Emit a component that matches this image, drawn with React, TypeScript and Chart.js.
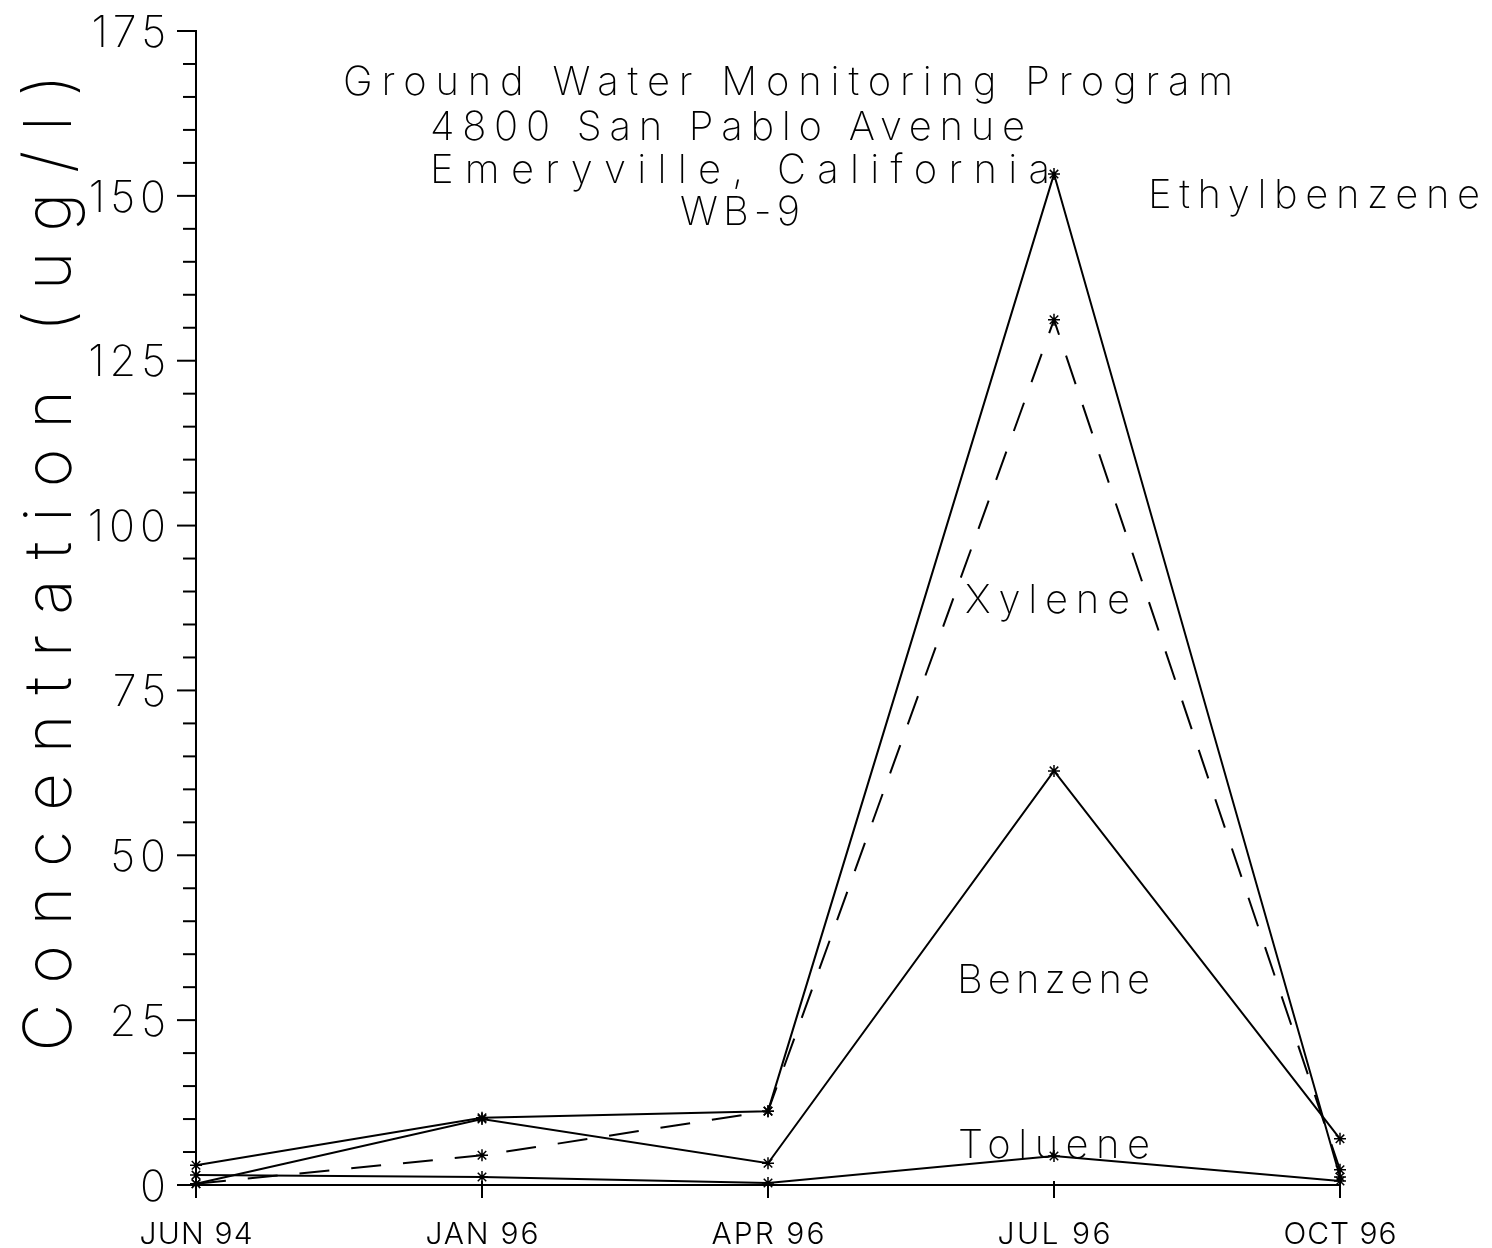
import { useEffect, useRef } from 'react';
import { Chart, registerables } from 'chart.js';

Chart.register(...registerables);

const categories = ['JUN 94', 'JAN 96', 'APR 96', 'JUL 96', 'OCT 96'];
const ethylbenzene = [3.0, 10.2, 11.2, 153.3, 1.2];
const xylene = [0.2, 4.5, 11.2, 131.2, 2.3];
const benzene = [0.2, 10.0, 3.3, 62.8, 7.0];
const toluene = [1.5, 1.2, 0.3, 4.4, 0.6];
const yMajorTicks = [0, 25, 50, 75, 100, 125, 150, 175];
const yMinorStep = 5;
const yMax = 175;
const titleLines = [
  'Ground Water Monitoring Program',
  '4800 San Pablo Avenue',
  'Emeryville, California',
  'WB-9',
];
const yTitle = 'Concentration (ug/l)';

const FONT = "'Inter', 'DejaVu Sans', sans-serif";

function drawFit(
  ctx: CanvasRenderingContext2D,
  text: string,
  x: number,
  cy: number,
  width: number,
  size: number,
  weight: number,
  align: 'left' | 'center' | 'right' = 'left'
) {
  ctx.save();
  ctx.font = `${weight} ${size}px ${FONT}`;
  (ctx as any).letterSpacing = '0px';
  const w = ctx.measureText(text).width;
  const n = text.length;
  const ls = n > 1 ? (width - w) / (n - 1) : 0;
  (ctx as any).letterSpacing = `${ls}px`;
  ctx.textBaseline = 'alphabetic';
  ctx.textAlign = 'left';
  const left = align === 'center' ? x - width / 2 : align === 'right' ? x - width : x;
  ctx.fillStyle = '#000';
  ctx.fillText(text, left, cy + size * 0.365);
  ctx.restore();
}

function drawSpaced(
  ctx: CanvasRenderingContext2D,
  text: string,
  x: number,
  cy: number,
  size: number,
  weight: number,
  spacing: number,
  align: 'left' | 'center' | 'right'
) {
  ctx.save();
  ctx.font = `${weight} ${size}px ${FONT}`;
  (ctx as any).letterSpacing = `${spacing}px`;
  const w = ctx.measureText(text).width - spacing;
  ctx.textBaseline = 'alphabetic';
  ctx.textAlign = 'left';
  const left = align === 'center' ? x - w / 2 : align === 'right' ? x - w : x;
  ctx.fillStyle = '#000';
  ctx.fillText(text, left, cy + size * 0.365);
  ctx.restore();
}

const decorPlugin = {
  id: 'decor',
  afterDraw(chart: any) {
    const ctx: CanvasRenderingContext2D = chart.ctx;
    const xs = chart.scales.x;
    const ys = chart.scales.y;
    const area = chart.chartArea;
    const y0 = ys.getPixelForValue(0);
    ctx.save();
    ctx.strokeStyle = '#000';
    ctx.lineWidth = 2;
    ctx.beginPath();
    ctx.moveTo(area.left, y0);
    ctx.lineTo(area.right, y0);
    ctx.stroke();
    for (let v = 0; v <= yMax; v += yMinorStep) {
      const py = ys.getPixelForValue(v);
      const major = yMajorTicks.includes(v);
      ctx.beginPath();
      ctx.moveTo(area.left - (major ? 19 : 13), py);
      ctx.lineTo(area.left, py);
      ctx.stroke();
    }
    categories.forEach((_, i) => {
      const px = xs.getPixelForValue(i);
      ctx.beginPath();
      ctx.moveTo(px, y0 - 4);
      ctx.lineTo(px, y0 + 13);
      ctx.stroke();
    });
    ctx.restore();

    yMajorTicks.forEach((v) => {
      drawSpaced(ctx, String(v), 166, ys.getPixelForValue(v), 43, 200, 5, 'right');
    });
    categories.forEach((c, i) => {
      drawFit(ctx, c, xs.getPixelForValue(i), 1233, 113, 30, 300, 'center');
    });
    drawFit(ctx, titleLines[0], 343, 80, 890, 40, 200);
    drawFit(ctx, titleLines[1], 430, 125, 595, 40, 200);
    drawFit(ctx, titleLines[2], 430, 168, 620, 40, 200);
    drawFit(ctx, titleLines[3], 680, 210, 120, 40, 200);
    drawFit(ctx, 'Ethylbenzene', 1148, 193, 332, 40, 200);
    drawFit(ctx, 'Xylene', 965, 598, 165, 40, 200);
    drawFit(ctx, 'Benzene', 957, 978, 193, 40, 200);
    drawFit(ctx, 'Toluene', 958, 1143, 192, 40, 200);
    ctx.save();
    ctx.translate(47, 563);
    ctx.rotate(-Math.PI / 2);
    drawFit(ctx, yTitle, 0, 0, 977, 66, 200, 'center');
    ctx.restore();
  },
};

export default function App() {
  const ref = useRef<HTMLCanvasElement | null>(null);
  useEffect(() => {
    if (!ref.current) return;
    const ds = (label: string, data: number[], dash: number[] = []) => ({
      label,
      data,
      borderColor: '#000',
      backgroundColor: '#000',
      borderWidth: 2,
      borderDash: dash,
      pointStyle: 'star',
      pointRadius: 6,
      pointBorderColor: '#000',
      pointBorderWidth: 1.5,
      tension: 0,
      fill: false,
      clip: false,
    });
    const chart = new Chart(ref.current, {
      type: 'line',
      data: {
        labels: categories,
        datasets: [
          ds('Ethylbenzene', ethylbenzene),
          ds('Xylene', xylene, [30, 22]),
          ds('Benzene', benzene),
          ds('Toluene', toluene),
        ],
      },
      options: {
        animation: false,
        responsive: false,
        layout: { padding: { left: 0, top: 31, right: 152, bottom: 0 } },
        plugins: { legend: { display: false }, tooltip: { enabled: false } },
        scales: {
          x: {
            type: 'category',
            offset: false,
            grid: { display: false },
            ticks: { display: false },
            border: { display: false },
            afterFit: (s: any) => {
              s.height = 63;
            },
          },
          y: {
            min: 0,
            max: yMax,
            grid: { display: false },
            ticks: { display: false },
            border: { display: true, color: '#000', width: 2 },
            afterFit: (s: any) => {
              s.width = 196;
            },
          },
        },
      } as any,
      plugins: [decorPlugin],
    });
    return () => chart.destroy();
  }, []);
  return (
    <div style={{ position: 'absolute', left: 0, top: 0, width: 1492, height: 1248, background: '#fff' }}>
      <canvas ref={ref} width={1492} height={1248} style={{ display: 'block' }} />
    </div>
  );
}
